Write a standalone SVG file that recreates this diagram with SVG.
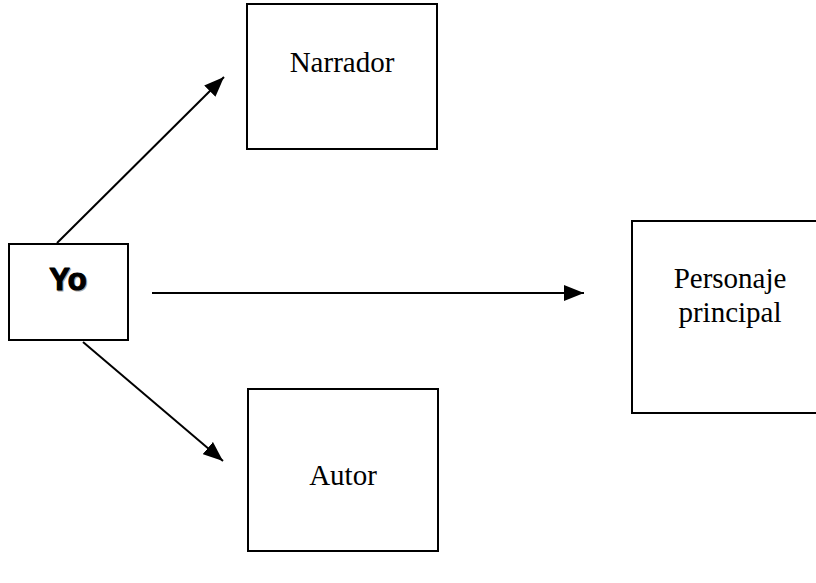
<svg xmlns="http://www.w3.org/2000/svg" width="816" height="583" viewBox="0 0 816 583">
<style>
.box{fill:#fff;stroke:#000;stroke-width:2}
.lbl{font-family:"Liberation Serif","Times New Roman",serif;font-size:29px;fill:#000;text-anchor:middle}
.yo{font-family:"Liberation Sans",Arial,sans-serif;font-weight:bold;font-size:31px;text-anchor:middle;stroke-width:1.2;stroke-linejoin:round}
</style>
<defs>
<marker id="ah2" viewBox="0 0 20 16" refX="20" refY="8" markerWidth="20" markerHeight="16" markerUnits="userSpaceOnUse" orient="auto">
<path d="M0,0 L20,8 L0,16 z" fill="#000"/>
</marker>
</defs>
<rect width="816" height="583" fill="#fff"/>
<g id="yo">
<rect class="box" x="9" y="244" width="119" height="96"/>
<text class="yo" x="69" y="291" fill="#aaa" stroke="#aaa">Yo</text>
<text class="yo" x="68" y="290" fill="#000" stroke="#000">Yo</text>
</g>
<g id="narrador">
<rect class="box" x="247" y="4" width="190" height="145"/>
<text class="lbl" x="342" y="72">Narrador</text>
</g>
<g id="autor">
<rect class="box" x="248" y="389" width="190" height="162"/>
<text class="lbl" x="343" y="485">Autor</text>
</g>
<g id="personaje">
<rect class="box" x="632" y="221" width="196" height="192"/>
<text class="lbl" x="730" y="288">Personaje</text>
<text class="lbl" x="730" y="322">principal</text>
</g>
<g id="connectors">
<line x1="57" y1="243" x2="224" y2="77" stroke="#000" stroke-width="2" marker-end="url(#ah2)"/>
<line x1="83" y1="342" x2="223" y2="461" stroke="#000" stroke-width="2" marker-end="url(#ah2)"/>
<line x1="152" y1="293" x2="584" y2="293" stroke="#000" stroke-width="2" marker-end="url(#ah2)"/>
</g>
</svg>
